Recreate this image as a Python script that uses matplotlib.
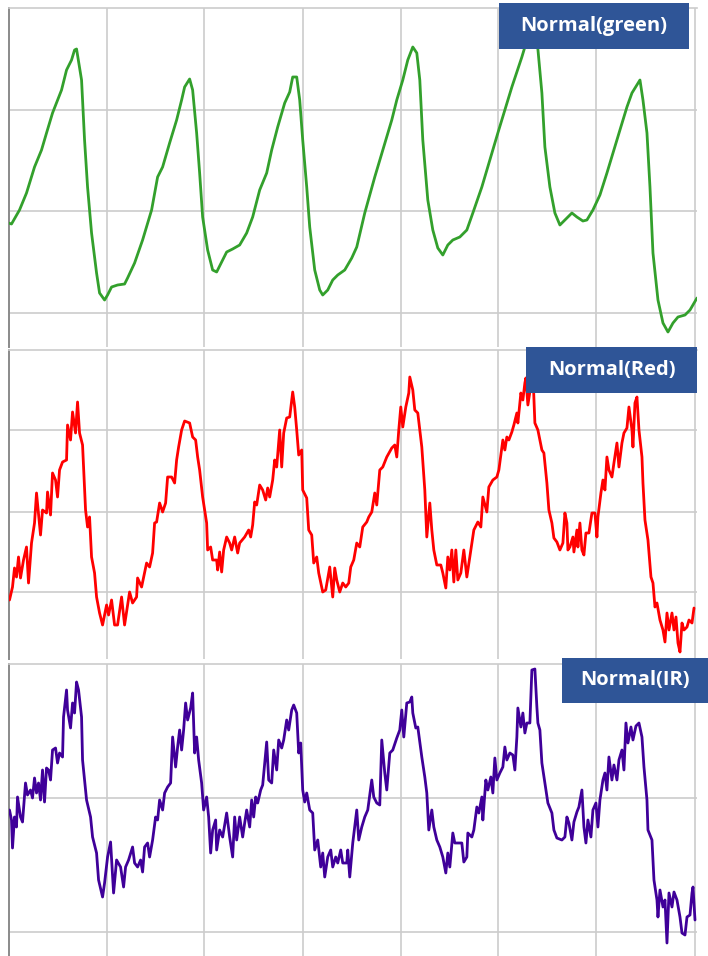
import numpy as np
import matplotlib.pyplot as plt
from matplotlib.patches import Rectangle

# sample index and amplitude (arbitrary units)
green_t = np.array([0, 3, 11, 18, 26, 33, 38, 44, 53, 58, 63, 66, 68, 73, 76, 79, 83, 88, 91, 96,
                    99, 103, 109, 116, 119, 126, 134, 143, 149, 154, 161, 168, 173, 176, 181, 184,
                    188, 191, 194, 199, 204, 208, 213, 218, 224, 231, 238, 244, 251, 258, 263, 269,
                    276, 281, 284, 288, 291, 294, 298, 301, 306, 311, 314, 319, 324, 329, 336, 343,
                    348, 356, 366, 374, 383, 388, 394, 399, 404, 408, 411, 414, 419, 424, 429, 434,
                    439, 444, 451, 458, 464, 473, 481, 489, 496, 503, 508, 513, 516, 522, 525, 529,
                    533, 536, 541, 546, 551, 556, 563, 568, 574, 578, 584, 591, 598, 604, 611, 618,
                    623, 628, 631, 634, 638, 641, 644, 649, 654, 659, 664, 669, 676, 681, 688])
green_v = np.array([124, 123, 137, 154, 180, 197, 214, 234, 257, 277, 287, 297, 298, 267, 207, 160,
                    114, 74, 54, 47, 52, 60, 62, 63, 69, 84, 107, 137, 170, 180, 204, 227, 247, 260,
                    268, 257, 214, 174, 130, 97, 77, 75, 85, 95, 98, 102, 114, 130, 157, 174, 197,
                    220, 244, 255, 270, 270, 247, 207, 160, 120, 77, 57, 52, 57, 67, 72, 77, 89, 100,
                    134, 170, 197, 227, 247, 267, 287, 300, 294, 267, 207, 147, 117, 99, 92, 102, 107,
                    110, 117, 134, 160, 187, 214, 237, 260, 275, 290, 300, 329, 325, 298, 254, 200,
                    160, 134, 122, 127, 134, 130, 126, 127, 137, 152, 174, 194, 217, 240, 254, 262,
                    267, 247, 214, 160, 94, 47, 24, 15, 24, 30, 32, 37, 49])

red_t = np.array([1, 4, 6, 8, 10, 12, 15, 18, 20, 23, 26, 28, 32, 34, 38, 39, 42, 44, 47, 49, 51,
                  54, 58, 59, 62, 64, 67, 69, 71, 74, 77, 79, 81, 83, 86, 88, 91, 94, 98, 100, 103,
                  106, 109, 113, 116, 121, 124, 128, 129, 133, 138, 141, 144, 146, 148, 151, 154,
                  157, 159, 163, 166, 168, 170, 173, 176, 181, 184, 187, 189, 191, 194, 198, 199,
                  202, 204, 208, 209, 211, 213, 215, 218, 221, 223, 226, 229, 231, 236, 240, 242,
                  244, 246, 248, 251, 254, 257, 259, 261, 264, 266, 268, 271, 273, 275, 278, 281,
                  284, 286, 288, 290, 293, 294, 298, 300, 303, 305, 308, 310, 314, 317, 321, 324,
                  326, 328, 331, 334, 337, 340, 342, 345, 348, 351, 354, 358, 360, 363, 366, 368,
                  371, 374, 378, 383, 386, 388, 390, 392, 394, 397, 400, 401, 404, 406, 409, 413,
                  416, 418, 421, 423, 425, 428, 432, 434, 437, 439, 441, 443, 445, 447, 449, 452,
                  455, 458, 461, 465, 469, 472, 474, 478, 480, 484, 488, 490, 494, 496, 498, 500,
                  503, 505, 508, 509, 512, 514, 516, 517, 519, 522, 524, 526, 529, 533, 535, 538,
                  540, 543, 545, 548, 551, 554, 556, 558, 559, 561, 564, 565, 568, 569, 571, 573,
                  575, 577, 580, 583, 586, 588, 589, 592, 594, 596, 598, 600, 603, 605, 608, 610,
                  613, 615, 618, 620, 623, 624, 626, 628, 630, 633, 634, 636, 639, 642, 644, 646,
                  648, 651, 654, 656, 658, 660, 663, 665, 667, 669, 671, 673, 675, 678, 680, 683,
                  685])
red_v = np.array([59, 72, 91, 82, 102, 81, 99, 112, 76, 116, 136, 166, 124, 149, 146, 167, 144, 186,
                  179, 162, 189, 197, 199, 234, 219, 247, 226, 257, 226, 214, 149, 132, 142, 102,
                  86, 62, 46, 34, 54, 44, 59, 34, 34, 62, 34, 67, 56, 62, 81, 72, 96, 92, 106, 136,
                  137, 156, 147, 156, 182, 182, 176, 199, 212, 229, 238, 236, 222, 219, 202, 189,
                  162, 136, 109, 112, 99, 99, 89, 107, 87, 109, 122, 116, 109, 122, 106, 116, 122,
                  129, 122, 134, 157, 154, 174, 169, 159, 171, 162, 179, 199, 192, 229, 192, 226,
                  241, 242, 267, 252, 229, 204, 209, 169, 161, 129, 124, 96, 102, 86, 67, 69, 92,
                  62, 91, 79, 67, 76, 72, 76, 92, 99, 116, 112, 132, 137, 142, 147, 166, 154, 189,
                  192, 202, 211, 214, 202, 229, 252, 232, 252, 266, 282, 269, 249, 246, 212, 169,
                  122, 156, 129, 109, 94, 94, 86, 71, 102, 89, 109, 77, 109, 79, 86, 109, 82, 102,
                  129, 137, 132, 162, 147, 172, 179, 182, 189, 219, 209, 222, 219, 227, 234, 246,
                  236, 266, 259, 276, 281, 254, 274, 287, 236, 229, 209, 206, 176, 149, 136, 121,
                  117, 109, 116, 146, 136, 109, 112, 122, 107, 129, 112, 136, 109, 104, 126, 126,
                  146, 146, 122, 142, 166, 179, 169, 202, 189, 182, 196, 216, 192, 216, 226, 231,
                  252, 229, 212, 256, 262, 229, 202, 176, 139, 119, 82, 76, 52, 56, 39, 29, 17, 46,
                  29, 46, 29, 42, 16, 7, 36, 29, 32, 39, 36, 51])

ir_t = np.array([1, 3, 4, 6, 8, 9, 12, 14, 17, 19, 22, 24, 26, 28, 30, 32, 34, 36, 38, 40, 42, 44,
                 47, 49, 51, 54, 55, 58, 59, 62, 64, 66, 68, 70, 73, 74, 78, 82, 84, 88, 90, 94,
                 96, 99, 102, 104, 105, 108, 112, 115, 117, 120, 124, 126, 129, 132, 134, 136, 139,
                 141, 144, 147, 149, 151, 154, 156, 159, 162, 164, 167, 169, 171, 173, 175, 177,
                 179, 182, 184, 186, 188, 190, 193, 195, 198, 200, 202, 204, 207, 208, 211, 214,
                 216, 218, 221, 224, 226, 228, 231, 234, 236, 238, 241, 243, 245, 247, 249, 252,
                 254, 258, 260, 263, 265, 268, 270, 273, 275, 278, 280, 283, 285, 288, 290, 292,
                 294, 296, 298, 301, 304, 306, 309, 312, 314, 316, 319, 322, 324, 327, 329, 332,
                 334, 338, 339, 341, 344, 348, 350, 353, 356, 359, 363, 365, 368, 371, 373, 376,
                 378, 381, 384, 388, 391, 393, 395, 398, 401, 403, 404, 407, 409, 413, 416, 418,
                 420, 423, 425, 428, 431, 434, 437, 439, 441, 444, 446, 449, 453, 455, 458, 459,
                 463, 465, 468, 470, 473, 474, 477, 479, 482, 484, 486, 488, 491, 494, 496, 498,
                 501, 504, 506, 508, 509, 512, 514, 516, 518, 521, 523, 526, 528, 529, 531, 533,
                 536, 539, 543, 545, 548, 553, 556, 558, 560, 563, 565, 568, 570, 573, 575, 577,
                 579, 582, 584, 587, 589, 591, 594, 596, 598, 600, 603, 605, 608, 610, 613, 615,
                 617, 619, 622, 624, 627, 630, 633, 635, 638, 639, 643, 645, 648, 649, 651, 654,
                 656, 658, 660, 663, 665, 668, 671, 673, 676, 678, 681, 683, 684, 686])
ir_v = np.array([146, 136, 108, 139, 129, 159, 139, 134, 173, 161, 166, 158, 178, 163, 173, 156,
                 186, 154, 188, 186, 176, 206, 208, 193, 203, 199, 239, 266, 246, 228, 253, 243,
                 274, 266, 239, 196, 156, 139, 119, 103, 76, 59, 73, 99, 114, 79, 63, 96, 89, 69,
                 89, 96, 109, 93, 89, 96, 84, 109, 113, 99, 116, 139, 136, 156, 146, 163, 169, 173,
                 219, 189, 209, 226, 206, 226, 253, 236, 248, 263, 203, 219, 196, 173, 146, 159,
                 139, 103, 126, 136, 106, 126, 119, 131, 143, 119, 99, 139, 116, 139, 119, 133,
                 146, 129, 156, 139, 159, 153, 166, 171, 214, 176, 173, 206, 186, 216, 208, 216,
                 236, 226, 246, 251, 243, 203, 213, 166, 154, 163, 146, 143, 106, 116, 89, 103, 79,
                 99, 106, 89, 99, 93, 106, 93, 93, 106, 79, 113, 146, 116, 129, 139, 146, 176,
                 159, 153, 151, 216, 183, 166, 203, 206, 218, 226, 246, 219, 253, 254, 259, 243,
                 228, 229, 199, 179, 163, 126, 146, 129, 116, 109, 99, 83, 103, 89, 123, 113, 113,
                 113, 94, 99, 123, 119, 126, 149, 143, 159, 136, 176, 166, 179, 163, 198, 176,
                 183, 189, 209, 196, 203, 201, 186, 219, 248, 229, 243, 223, 233, 233, 286, 287,
                 249, 233, 226, 193, 173, 153, 143, 126, 118, 116, 119, 139, 133, 116, 134, 144,
                 149, 166, 129, 113, 136, 119, 146, 153, 129, 156, 176, 183, 166, 199, 176, 191,
                 176, 196, 206, 186, 233, 213, 229, 216, 230, 233, 219, 189, 156, 126, 116, 76,
                 56, 39, 66, 49, 56, 13, 63, 49, 64, 56, 39, 23, 21, 39, 41, 63, 69, 36])

labels = ['Normal(green)', 'Normal(Red)', 'Normal(IR)']
colors = ['#33a02c', '#ff0000', '#3f0099']
series_t = [green_t, red_t, ir_t]
series_v = [green_v, red_v, ir_v]

# panel layout in pixels (top, bottom), y range and horizontal grid values
panel_px = [(8, 347), (350, 659), (664, 956)]
ymax = [339, 309, 292]
hgrid = [[34, 136, 237], [67, 147, 229], [24, 158]]
vgrid = [98, 195, 294, 392, 489, 587, 686]
box_px = [(499, 3, 190, 46), (526, 347, 171, 46), (562, 658, 146, 45)]

W, H = 708, 956
fig = plt.figure(figsize=(W / 100, H / 100), dpi=100)
left, right = 8.5, 697

for i in range(3):
    top, bot = panel_px[i]
    ax = fig.add_axes([left / W, 1 - bot / H, (right - left) / W, (bot - top) / H])
    ax.set_xlim(0, 688)
    ax.set_ylim(0, ymax[i])
    for g in vgrid:
        ax.axvline(g, color='#cccccc', lw=1.2, zorder=1)
    for g in hgrid[i]:
        ax.axhline(g, color='#cccccc', lw=1.2, zorder=1)
    ax.plot(series_t[i], series_v[i], color=colors[i], lw=2.0, zorder=3,
            solid_joinstyle='round', solid_capstyle='round')
    ax.set_xticks([])
    ax.set_yticks([])
    for s in ['right', 'bottom']:
        ax.spines[s].set_visible(False)
    ax.spines['top'].set_color('#cccccc')
    ax.spines['top'].set_linewidth(1.2)
    ax.spines['left'].set_color('#8a8a8a')
    ax.spines['left'].set_linewidth(1.4)

# label boxes
for i in range(3):
    bx, by, bw, bh = box_px[i]
    fig.add_artist(Rectangle((bx / W, 1 - (by + bh) / H), bw / W, bh / H,
                             transform=fig.transFigure, facecolor='#2f5597',
                             edgecolor='none', zorder=10))
    fig.text((bx + bw / 2) / W, 1 - (by + bh / 2) / H, labels[i], color='white',
             fontsize=14.5, fontweight='bold', family='Open Sans',
             ha='center', va='center', zorder=11)

fig.savefig('out.png', dpi=100)
